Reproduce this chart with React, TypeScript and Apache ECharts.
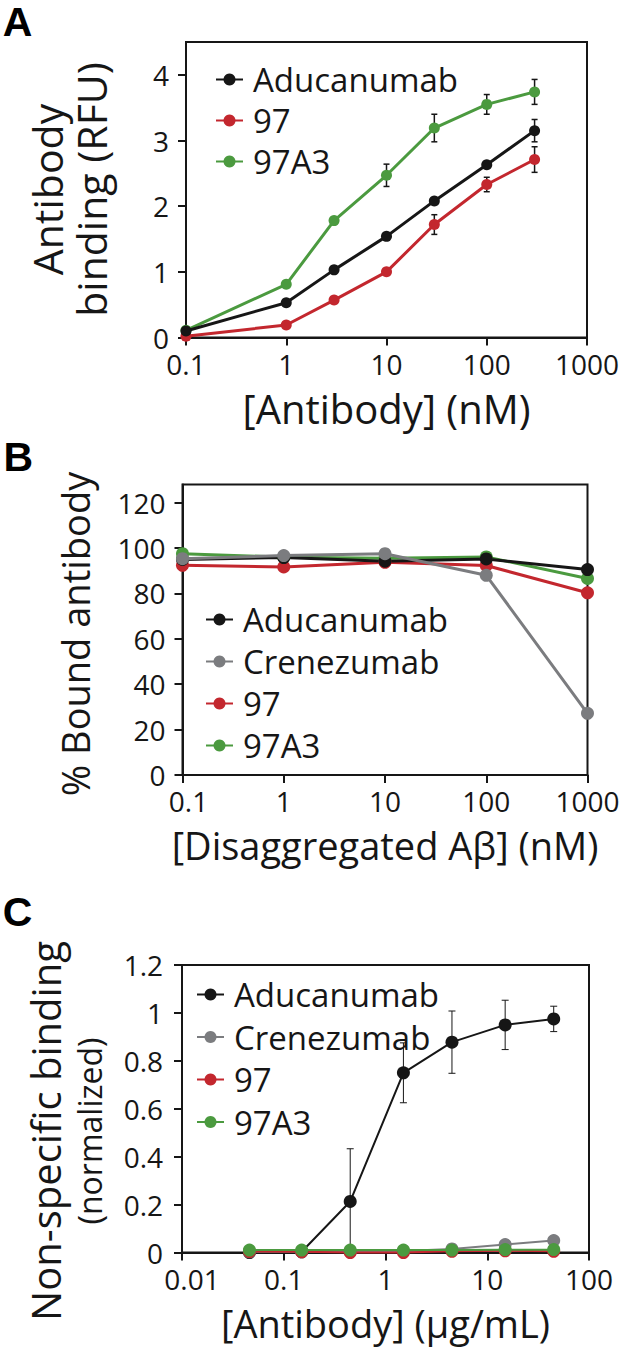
import React, { useEffect, useRef } from 'react';
import * as echarts from 'echarts';

const FONT = "'Open Sans', 'Noto Sans', sans-serif";
const BOLD_FONT = "'Liberation Sans', Arial, sans-serif";
const BLACK = '#161616';
const GRAY = '#7b7c7f';
const RED = '#c3272e';
const GREEN = '#4b9a3f';

// ---------- Panel A: antibody binding ----------
const concA = [0.1, 1, 3, 10, 30, 100, 300];
const aduA = [0.1, 0.53, 1.03, 1.54, 2.08, 2.63, 3.15];
const aduAErr = [0, 0, 0, 0, 0, 0, 0.17];
const r97A = [0.02, 0.19, 0.57, 1.0, 1.72, 2.33, 2.71];
const r97AErr = [0, 0, 0, 0, 0.15, 0.11, 0.195];
const g97A3A = [0.11, 0.81, 1.78, 2.47, 3.19, 3.55, 3.74];
const g97A3AErr = [0, 0, 0, 0.17, 0.21, 0.15, 0.19];
const yTicksA = [0, 1, 2, 3, 4];

// ---------- Panel B: % bound antibody ----------
const concB = [0.1, 1, 10, 100, 1000];
const aduB = [95, 95.8, 94.2, 95.2, 90.5];
const creB = [95.3, 96.7, 97.5, 88, 27.2];
const r97B = [92.4, 91.7, 93.7, 92.3, 80.3];
const g97A3B = [97.5, 96, 95.5, 96.1, 86.6];
const yTicksB = [0, 20, 40, 60, 80, 100, 120];

// ---------- Panel C: non-specific binding ----------
const concC = [0.046, 0.15, 0.45, 1.5, 4.5, 15, 45];
const aduC = [0.0, 0.003, 0.213, 0.75, 0.878, 0.95, 0.975];
const aduCErr = [0, 0, 0.22, 0.125, 0.13, 0.103, 0.053];
const creC = [0.003, 0.003, 0.004, 0.006, 0.015, 0.033, 0.05];
const r97C = [0.004, 0.003, 0.0, 0.0, 0.005, 0.007, 0.005];
const g97A3C = [0.01, 0.01, 0.01, 0.01, 0.01, 0.012, 0.012];
const yTicksC = [0, 0.2, 0.4, 0.6, 0.8, 1, 1.2];

const fmt = (v: number) => String(Number((+v).toPrecision(6)));

const logX = (
  gridIndex: number,
  min: number,
  max: number,
  name: string,
  nameSize: number,
  nameGap: number,
  firstShift: number
) => ({
  type: 'log',
  gridIndex,
  logBase: 10,
  min,
  max,
  name,
  nameLocation: 'middle',
  nameGap,
  nameTextStyle: { fontFamily: FONT, fontSize: nameSize, color: BLACK, lineHeight: nameSize },
  axisLine: { show: true, onZero: false, lineStyle: { color: BLACK, width: 2 } },
  axisTick: { show: true, inside: false, length: 8, lineStyle: { color: BLACK, width: 2 } },
  axisLabel: {
    fontFamily: FONT,
    fontSize: 28,
    lineHeight: 24,
    color: BLACK,
    margin: 14,
    formatter: (v: number) => {
      const s = fmt(v);
      return Math.abs(v - min) < min * 1e-6 && firstShift > 0 ? `{f|${s}}` : s;
    },
    rich: {
      f: { fontFamily: FONT, fontSize: 28, lineHeight: 24, color: BLACK, padding: [0, 0, 0, firstShift * 2] },
    },
  },
  splitLine: { show: false },
  minorTick: { show: false },
  minorSplitLine: { show: false },
});

const valY = (gridIndex: number, min: number, max: number, ticks: number[], margin: number) => ({
  type: 'value',
  gridIndex,
  min,
  max,
  axisLine: { show: true, onZero: false, lineStyle: { color: BLACK, width: 2 } },
  axisTick: { show: true, inside: false, length: 8, customValues: ticks, lineStyle: { color: BLACK, width: 2 } },
  axisLabel: { fontFamily: FONT, fontSize: 28, lineHeight: 24, color: BLACK, margin, customValues: ticks, formatter: fmt },
  splitLine: { show: false },
});

const lineSeries = (name: string, idx: number, xs: number[], ys: number[], color: string, lw: number, size: number, z: number) => ({
  type: 'line',
  name,
  xAxisIndex: idx,
  yAxisIndex: idx,
  data: xs.map((x, i) => [x, ys[i]]),
  symbol: 'circle',
  symbolSize: size,
  showSymbol: true,
  lineStyle: { color, width: lw },
  itemStyle: { color },
  z,
  clip: false,
  silent: true,
});

const errSeries = (name: string, idx: number, xs: number[], ys: number[], errs: number[], color: string, lw: number, cap: number) => ({
  type: 'custom',
  name,
  xAxisIndex: idx,
  yAxisIndex: idx,
  z: 1,
  silent: true,
  data: xs.map((x, i) => [x, ys[i], errs[i]]).filter((d) => d[2] > 0),
  encode: { x: 0, y: 1 },
  renderItem: (_params: any, api: any) => {
    const x = api.value(0);
    const y = api.value(1);
    const e = api.value(2);
    const hi = api.coord([x, y + e]);
    const lo = api.coord([x, y - e]);
    const st = { stroke: color, lineWidth: lw };
    return {
      type: 'group',
      children: [
        { type: 'line', shape: { x1: hi[0], y1: hi[1], x2: lo[0], y2: lo[1] }, style: st },
        { type: 'line', shape: { x1: hi[0] - cap, y1: hi[1], x2: hi[0] + cap, y2: hi[1] }, style: st },
        { type: 'line', shape: { x1: lo[0] - cap, y1: lo[1], x2: lo[0] + cap, y2: lo[1] }, style: st },
      ],
    };
  },
});

const legendCfg = (names: string[], left: number, top: number, gap: number) => ({
  data: names,
  orient: 'vertical',
  left,
  top,
  itemWidth: 27,
  itemHeight: 15,
  itemGap: gap,
  selectedMode: false,
  textStyle: { fontFamily: FONT, fontSize: 33, lineHeight: 33, color: BLACK, padding: [0, 0, 0, 5] },
});

const vText = (text: string, x: number, y: number, size: number) => ({
  type: 'text',
  x,
  y,
  rotation: Math.PI / 2,
  style: { text, fontFamily: FONT, fontSize: size, fill: BLACK, align: 'center', verticalAlign: 'middle' },
});

const panelLetter = (text: string, x: number, y: number) => ({
  type: 'text',
  x,
  y,
  style: { text, font: `bold 41px ${BOLD_FONT}`, fill: '#000', align: 'center', verticalAlign: 'middle' },
});

export default function App() {
  const ref = useRef<HTMLDivElement>(null);
  useEffect(() => {
    document.body.style.margin = '0';
    if (!ref.current) return;
    const chart = echarts.init(ref.current, undefined, { renderer: 'svg' });
    const gridBase = { show: true, borderColor: BLACK, borderWidth: 2, backgroundColor: 'transparent', containLabel: false };
    chart.setOption({
      animation: false,
      backgroundColor: '#fff',
      grid: [
        { ...gridBase, left: 186, top: 42, width: 401, height: 295.5 },
        { ...gridBase, left: 182.5, top: 484.5, width: 405, height: 290.5 },
        { ...gridBase, left: 182, top: 965, width: 407, height: 287.5 },
      ],
      xAxis: [
        logX(0, 0.1, 1000, '[Antibody] (nM)', 40, 51, 0),
        logX(1, 0.1, 1000, '[Disaggregated Aβ] (nM)', 38, 51, 6),
        logX(2, 0.01, 100, '[Antibody] (μg/mL)', 38, 51, 10),
      ],
      yAxis: [
        valY(0, 0, 4.5, yTicksA, 17),
        valY(1, 0, 128, yTicksB, 17),
        valY(2, 0, 1.2, yTicksC, 19),
      ],
      legend: [
        legendCfg(['Aducanumab', '97', '97A3'], 210, 58, 8),
        legendCfg(['Aducanumab', 'Crenezumab', '97', '97A3'], 200, 598, 9),
        legendCfg(['Aducanumab', 'Crenezumab', '97', '97A3'], 191, 973, 9.5),
      ],
      graphic: [
        panelLetter('A', 17.5, 22),
        panelLetter('B', 18.3, 457),
        panelLetter('C', 17.5, 912),
        vText('Antibody', 47, 189.5, 41),
        vText('binding (RFU)', 91, 189.5, 41),
        vText('% Bound antibody', 75, 634, 38),
        vText('Non-specific binding', 45.5, 1131, 40),
        vText('(normalized)', 89.3, 1131, 32),
      ],
      series: [
        // Panel A
        errSeries('errA1', 0, concA, aduA, aduAErr, BLACK, 1.5, 3),
        errSeries('errA2', 0, concA, r97A, r97AErr, BLACK, 1.5, 3),
        errSeries('errA3', 0, concA, g97A3A, g97A3AErr, BLACK, 1.5, 3),
        lineSeries('97', 0, concA, r97A, RED, 3, 11, 2),
        lineSeries('97A3', 0, concA, g97A3A, GREEN, 3, 11, 2),
        lineSeries('Aducanumab', 0, concA, aduA, BLACK, 3, 11, 3),
        // Panel B
        lineSeries('97', 1, concB, r97B, RED, 3, 13, 2),
        lineSeries('97A3', 1, concB, g97A3B, GREEN, 3, 13, 2),
        lineSeries('Aducanumab', 1, concB, aduB, BLACK, 3, 13, 2),
        lineSeries('Crenezumab', 1, concB, creB, GRAY, 3, 13, 3),
        // Panel C
        errSeries('errC1', 2, concC, aduC, aduCErr, BLACK, 1, 3.5),
        lineSeries('Aducanumab', 2, concC, aduC, BLACK, 2, 13, 2),
        lineSeries('Crenezumab', 2, concC, creC, GRAY, 2, 13, 2),
        lineSeries('97', 2, concC, r97C, RED, 2, 13, 2),
        lineSeries('97A3', 2, concC, g97A3C, GREEN, 2, 13, 3),
      ],
    });
    return () => chart.dispose();
  }, []);
  return <div ref={ref} style={{ width: 625, height: 1349 }} />;
}
